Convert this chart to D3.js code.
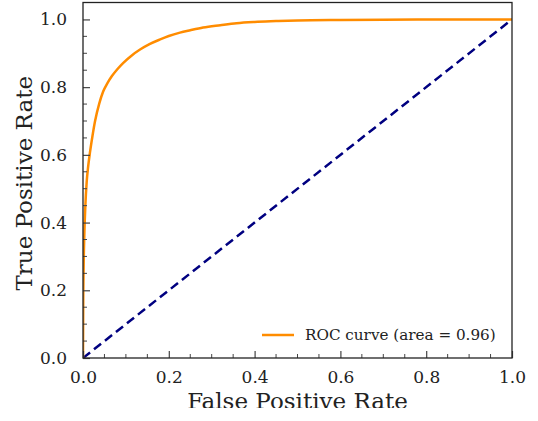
<!DOCTYPE html>
<html><head><meta charset="utf-8">
<script src="https://cdn.jsdelivr.net/npm/d3@7"></script>
<style>html,body{margin:0;padding:0;background:#fff;}svg{display:block;}</style>
</head><body>
<script>
const fpr = [0, 0.0005, 0.0015, 0.003, 0.0055, 0.0086, 0.012, 0.016, 0.022, 0.028, 0.038, 0.047, 0.057, 0.067, 0.08, 0.094, 0.113, 0.133, 0.155, 0.18, 0.2, 0.226, 0.25, 0.28, 0.32, 0.358, 0.4, 0.45, 0.5, 0.6, 0.7, 0.8, 0.9, 1.0];
const tpr = [0, 0.15, 0.27, 0.36, 0.45, 0.52, 0.565, 0.605, 0.655, 0.699, 0.752, 0.787, 0.812, 0.832, 0.853, 0.872, 0.893, 0.911, 0.927, 0.941, 0.951, 0.961, 0.968, 0.976, 0.983, 0.989, 0.9926, 0.995, 0.997, 0.9985, 0.9993, 0.9997, 0.9999, 1.0];
const diagX = [0, 1];
const diagY = [0, 1];
const xTicks = [0, 0.2, 0.4, 0.6, 0.8, 1.0];
const yTicks = [0, 0.2, 0.4, 0.6, 0.8, 1.0];
const legendLabel = "ROC curve (area = 0.96)";
const xTitle = "False Positive Rate";
const yTitle = "True Positive Rate";

const W = 538, H = 421;
const L = 83, R = 512, T = 2.5, B = 358;
const svg = d3.select("body").append("svg").attr("width", W).attr("height", H);
const x = d3.scaleLinear().domain([0, 1]).range([L, R]);
const y = d3.scaleLinear().domain([0, 1.05]).range([B, T]);
const font = "'DejaVu Serif', serif";

svg.append("defs").append("clipPath").attr("id", "plot")
  .append("rect").attr("x", L).attr("y", T).attr("width", R - L).attr("height", B - T);
svg.append("defs").append("clipPath").attr("id", "fig")
  .append("rect").attr("x", 0).attr("y", 0).attr("width", W).attr("height", 408);

// lines
const g = svg.append("g").attr("clip-path", "url(#plot)");
g.append("path")
  .datum(diagX.map((d, i) => [d, diagY[i]]))
  .attr("d", d3.line().x(d => x(d[0])).y(d => y(d[1])))
  .attr("fill", "none").attr("stroke", "#000080").attr("stroke-width", 2.5)
  .attr("stroke-dasharray", "9,5");
g.append("path")
  .datum(fpr.map((d, i) => [d, tpr[i]]))
  .attr("d", d3.line().x(d => x(d[0])).y(d => y(d[1])).curve(d3.curveMonotoneX))
  .attr("fill", "none").attr("stroke", "#ff8c00").attr("stroke-width", 2.5);

// axes
const minor = d3.range(0, 1.0001, 0.05);
const xAx = d3.axisBottom(x).tickValues(xTicks).tickFormat(d3.format(".1f")).tickSizeInner(-7).tickSizeOuter(0).tickPadding(13);
const xg = svg.append("g").attr("transform", `translate(0,${B})`).call(xAx);
const yAx = d3.axisLeft(y).tickValues(yTicks).tickFormat(d3.format(".1f")).tickSizeInner(-7).tickSizeOuter(0).tickPadding(16);
const yg = svg.append("g").attr("transform", `translate(${L},0)`).call(yAx);
[xg, yg].forEach(a => {
  a.attr("font-family", null).attr("font-size", null);
  a.select(".domain").remove();
  a.selectAll("line").attr("stroke", "#444").attr("stroke-width", 1.2);
  a.selectAll("text").style("font-family", font).style("font-size", "17px").attr("fill", "#222");
});
xg.selectAll("text").attr("dy", "0.71em");
// minor ticks
svg.append("g").selectAll("line").data(minor.filter(v => !xTicks.some(t => Math.abs(t - v) < 1e-6)))
  .join("line").attr("x1", d => x(d)).attr("x2", d => x(d)).attr("y1", B).attr("y2", B - 4)
  .attr("stroke", "#444").attr("stroke-width", 1);
svg.append("g").selectAll("line").data(minor.filter(v => !yTicks.some(t => Math.abs(t - v) < 1e-6)))
  .join("line").attr("y1", d => y(d)).attr("y2", d => y(d)).attr("x1", L).attr("x2", L + 4)
  .attr("stroke", "#444").attr("stroke-width", 1);

// frame
svg.append("rect").attr("x", L).attr("y", T).attr("width", R - L).attr("height", B - T)
  .attr("fill", "none").attr("stroke", "#222").attr("stroke-width", 1.3);

// legend
svg.append("line").attr("x1", 262).attr("x2", 294).attr("y1", 335).attr("y2", 335)
  .attr("stroke", "#ff8c00").attr("stroke-width", 2.5);
svg.append("text").attr("x", 305).attr("y", 340).style("font-family", font).style("font-size", "15.2px")
  .attr("fill", "#222").text(legendLabel);

// titles
svg.append("g").attr("clip-path", "url(#fig)").append("text")
  .attr("x", (L + R) / 2).attr("y", 408.5).attr("text-anchor", "middle")
  .style("font-family", font).style("font-size", "23px").attr("fill", "#222").text(xTitle);
svg.append("text").attr("transform", `translate(32,${(T + B) / 2 + 3}) rotate(-90)`)
  .attr("text-anchor", "middle").style("font-family", font).style("font-size", "23px")
  .attr("fill", "#222").text(yTitle);
</script>
</body></html>
